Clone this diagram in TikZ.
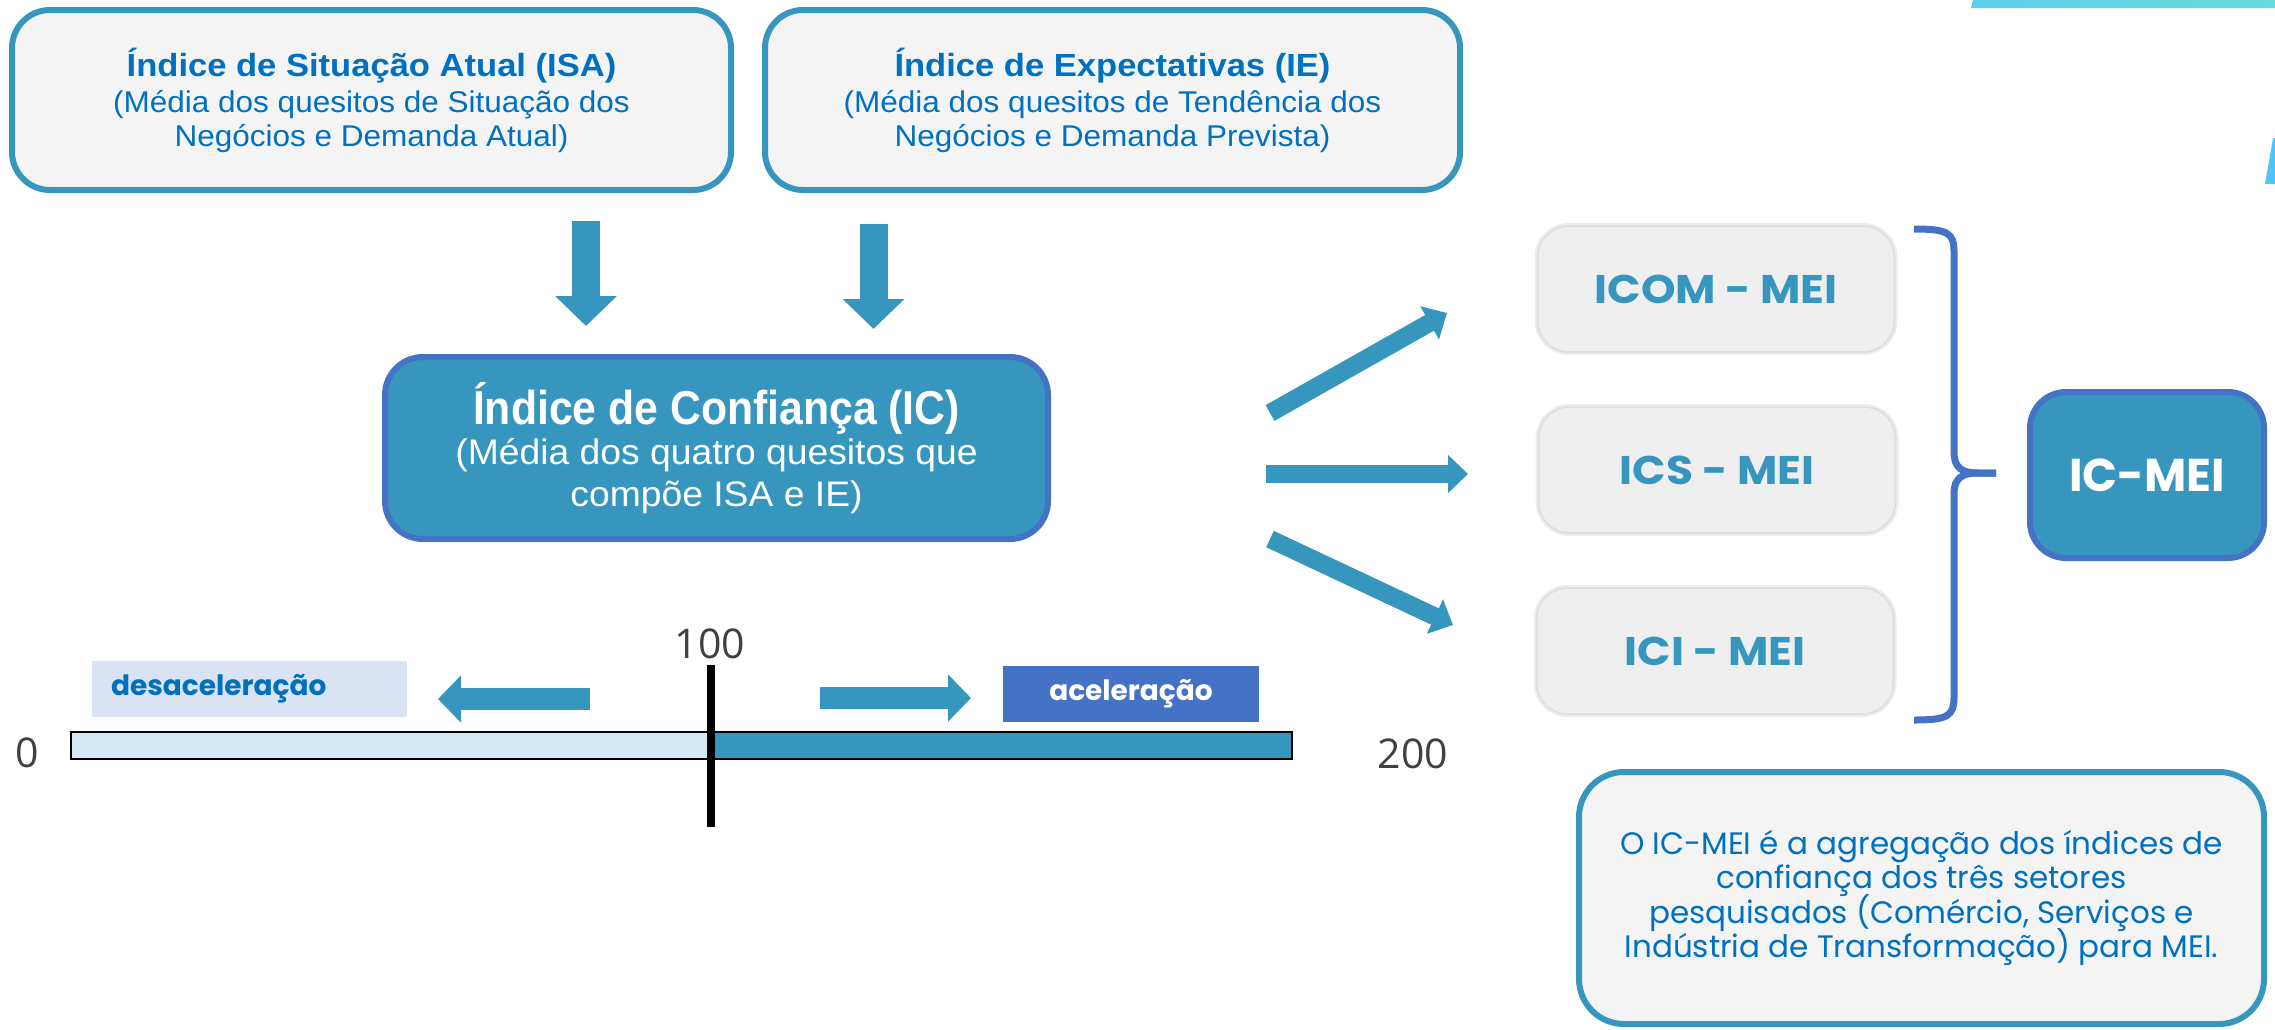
\documentclass[tikz,border=0pt]{standalone}
\usepackage{fontspec}
\setmainfont{Liberation Sans}
\newfontfamily\subfont[FakeStretch=1.05]{Liberation Sans}
\newfontfamily\isafont[FakeStretch=1.08]{Liberation Sans}
\newfontfamily\icfont[FakeStretch=0.9]{Liberation Sans}
\newfontfamily\meifont{Poppins}
\newfontfamily\meiwide[FakeStretch=1.1]{Poppins}
\newfontfamily\numfont{Open Sans}
\usepackage{tikz}
\usetikzlibrary{arrows.meta}
\usetikzlibrary{positioning}
\setlength{\lineskiplimit}{-40pt}

\definecolor{icteal}{HTML}{3796BD}
\definecolor{icblue}{HTML}{4472C4}
\definecolor{txtblue}{HTML}{0070C0}
\definecolor{boxgray}{HTML}{F4F4F4}
\definecolor{meigray}{HTML}{EFEFEF}
\definecolor{barlight}{HTML}{D3E9F1}
\definecolor{slowfill}{HTML}{DAE3F3}
\definecolor{numgray}{HTML}{404040}
\definecolor{cyanA}{HTML}{5CCFEA}
\definecolor{cyanB}{HTML}{6ADCDF}
\definecolor{sliver}{HTML}{4FC4F6}

\tikzset{
  topbox/.style={draw=icteal, line width=6pt, fill=boxgray, rounded corners=38pt,
    minimum width=719pt, minimum height=180pt, align=center, text=txtblue,
    font=\subfont\fontsize{30}{34}\selectfont},
  icbox/.style={draw=icblue, line width=6pt, fill=icteal, rounded corners=38pt,
    minimum width=663pt, minimum height=182pt, align=center, text=white,
    font=\subfont\fontsize{35.5}{42}\selectfont},
  meibox/.style={fill=meigray, rounded corners=30pt, minimum width=355pt, minimum height=124pt,
    preaction={draw=black!7, line width=8pt}, preaction={draw=black!13, line width=3.5pt},
    text=icteal, font=\meiwide\bfseries\fontsize{40}{48}\selectfont},
  totalbox/.style={draw=icblue, line width=6pt, fill=icteal, rounded corners=36pt,
    minimum width=234pt, minimum height=166pt, text=white,
    font=\meifont\bfseries\fontsize{46}{54}\selectfont},
  notebox/.style={draw=icteal, line width=6pt, fill=boxgray, rounded corners=45pt,
    minimum width=685pt, minimum height=252pt, align=center, text=txtblue,
    font=\meifont\fontsize{31}{34.5}\selectfont},
  tagbox/.style={minimum height=56pt, inner ysep=0pt, font=\meifont\bfseries\fontsize{28}{34}\selectfont},
  numlbl/.style={text=numgray, inner sep=0pt, font=\numfont\fontsize{41}{48}\selectfont},
  bigarrow/.style={icteal, line width=28pt, -{Triangle[width=60pt,length=30pt]}},
  fanarrow/.style={icteal, line width=18pt, -{Triangle[width=37pt,length=20pt]}},
  scalearrow/.style={icteal, line width=22pt, -{Triangle[width=46pt,length=23pt]}}
}

\begin{document}
\begin{tikzpicture}[x=1pt,y=-1pt]
\useasboundingbox (0,0) rectangle (2275,1029);

\shade[left color=cyanA, right color=cyanB] (1973,0) -- (2275,0) -- (2275,8) -- (1971,8) -- cycle;
\fill[sliver] (2273,138) -- (2275,138) -- (2275,184) -- (2265,184) -- cycle;

\node[topbox] (isa) at (371.5,100) {{\isafont\bfseries\fontsize{32}{36}\selectfont Índice de Situação Atual (ISA)}\\[2pt]
  (Média dos quesitos de Situação dos\\ Negócios e Demanda Atual)};
\node[topbox, minimum width=695pt] (ie) at (1112.5,100) {{\isafont\bfseries\fontsize{32}{36}\selectfont Índice de Expectativas (IE)}\\[2pt]
  (Média dos quesitos de Tendência dos\\ Negócios e Demanda Prevista)};
\node[icbox] (ic) at (716.5,448) {{\icfont\bfseries\fontsize{47.5}{52}\selectfont Índice de Confiança (IC)}\\[-2pt]
  (Média dos quatro quesitos que\\ compõe ISA e IE)};

\coordinate (downL1) at (586,221);
\coordinate (downL2) at (586,326);
\coordinate (downR1) at (873.5,224);
\coordinate (downR2) at (873.5,329);
\draw[bigarrow] (downL1) -- (downL2);
\draw[bigarrow] (downR1) -- (downR2);

\node[meibox] (icom) at (1716,289) {ICOM - MEI};
\node[meibox] (ics) at (1717,470) {ICS - MEI};
\node[meibox] (ici) at (1715,651) {ICI - MEI};

\coordinate (fanT1) at (1270,413);
\coordinate (fanT2) at (1447,313);
\coordinate (fanM1) at (1266,474);
\coordinate (fanM2) at (1468,474);
\coordinate (fanB1) at (1270,539);
\coordinate (fanB2) at (1453,625);
\draw[fanarrow] (fanT1) -- (fanT2);
\draw[fanarrow] (fanM1) -- (fanM2);
\draw[fanarrow] (fanB1) -- (fanB2);

\draw[icblue, line width=7pt] (1914,229) .. controls (1948,229) and (1954,233) .. (1954,252) -- (1954,452)
  .. controls (1954,468) and (1962,473) .. (1978,473) -- (1996,473);
\draw[icblue, line width=7pt] (1996,473) -- (1978,473) .. controls (1962,473) and (1954,478) .. (1954,494)
  -- (1954,697) .. controls (1954,716) and (1948,720) .. (1914,720);

\node[totalbox] (icmei) at (2147,475) {IC-MEI};

\node[notebox] (note) at (1921.5,898) {O IC-MEI é a agregação dos índices de\\ confiança dos três setores\\
  pesquisados (Comércio, Serviços e\\ Indústria de Transformação) para MEI.};

\fill[barlight] (71,732) rectangle (711,759);
\fill[icteal] (711,732) rectangle (1292,759);
\draw[line width=2.5pt] (71,732) rectangle (1292,759);
\draw[line width=8pt] (711,665) -- (711,827);

\node[numlbl] (zero) at (27,753) {0};
\node[numlbl] (mid) at (710,644) {100};
\node[numlbl] (max) at (1413,754) {200};

\node[tagbox, fill=slowfill, text=txtblue, minimum width=315pt, text width=277pt, align=left] (slow) at (249.5,689) {desaceleração};
\node[tagbox, fill=icblue, text=white, minimum width=256pt] (fast) at (1131,694) {aceleração};

\coordinate (slowA) at (590,699);
\coordinate (slowB) at (438,699);
\coordinate (fastA) at (820,698);
\coordinate (fastB) at (971,698);
\draw[scalearrow] (slowA) -- (slowB);
\draw[scalearrow] (fastA) -- (fastB);
\end{tikzpicture}
\end{document}
